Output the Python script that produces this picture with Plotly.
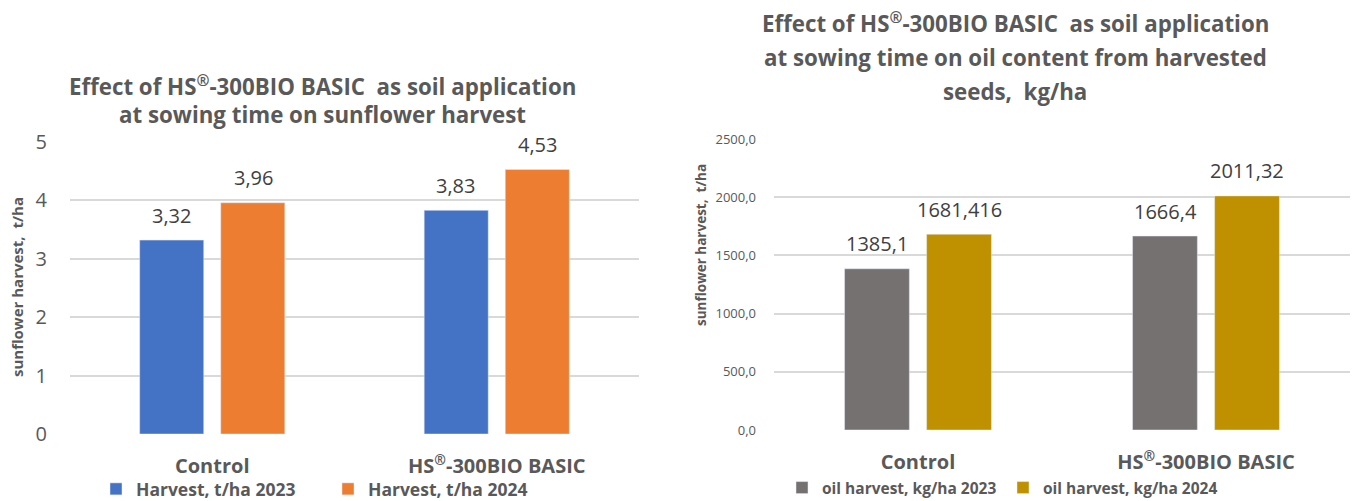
import plotly.graph_objects as go

categories = ["Control", "HS®-300BIO BASIC"]
category_labels = ["Control", "HS<sup>®</sup>-300BIO BASIC"]
harvest_2023 = [3.32, 3.83]
harvest_2024 = [3.96, 4.53]
oil_2023 = [1385.1, 1666.4]
oil_2024 = [1681.416, 2011.32]

left_names = ["Harvest, t/ha 2023", "Harvest, t/ha 2024"]
right_names = ["oil harvest, kg/ha 2023", "oil harvest, kg/ha 2024"]
left_ticks = [0, 1, 2, 3, 4, 5]
right_ticks = [0, 500, 1000, 1500, 2000, 2500]
left_title = ["Effect of HS<sup>®</sup>-300BIO BASIC  as soil application",
              "at sowing time on sunflower harvest"]
right_title = ["Effect of HS<sup>®</sup>-300BIO BASIC  as soil application",
               "at sowing time on oil content from harvested",
               "seeds,  kg/ha"]
y_title = "sunflower harvest,  t/ha"

W, H = 1354, 501
FONT = "Open Sans"
GRAY = "#595959"
LBL = "#404040"


def fmt(v):
    return str(v).replace(".", ",")


def px(x):
    return x / W


def py(y):
    return (H - y) / H


fig = go.Figure()
series = [
    (harvest_2023, left_names[0], "#4472C4", "x", "y", "legend", -1),
    (harvest_2024, left_names[1], "#ED7D31", "x", "y", "legend", 1),
    (oil_2023, right_names[0], "#767171", "x2", "y2", "legend2", -1),
    (oil_2024, right_names[1], "#BF9000", "x2", "y2", "legend2", 1),
]
for vals, name, col, xa, ya, lg, side in series:
    fig.add_trace(go.Bar(x=categories, y=vals, name=name, marker_color=col,
                         xaxis=xa, yaxis=ya, legend=lg, hoverinfo="skip"))
    for c, v in zip(categories, vals):
        fig.add_annotation(x=c, y=v, xref=xa, yref=ya, text=fmt(v), showarrow=False,
                           xshift=side * 41, yshift=25, yanchor="middle",
                           font=dict(size=20, color=LBL, family=FONT))

grid = dict(showgrid=True, gridcolor="#D9D9D9", gridwidth=1.5, zeroline=False, showline=False, ticks="")
xcommon = dict(showgrid=False, zeroline=False, showline=False, ticks="",
               tickvals=categories, ticktext=category_labels,
               tickfont=dict(size=20, color=GRAY, family=FONT, weight="bold"), ticklabelstandoff=18)

fig.update_layout(
    width=W, height=H, margin=dict(l=0, r=0, t=0, b=0, autoexpand=False),
    paper_bgcolor="white", plot_bgcolor="white",
    separators=", ", barmode="group", bargap=0.43, bargroupgap=0.21,
    font=dict(family=FONT, color=GRAY),
    xaxis=dict(domain=[px(70), px(639)], anchor="y", **xcommon),
    yaxis=dict(domain=[py(434), py(142)], anchor="x", range=[0, 5], tickvals=left_ticks,
               tickfont=dict(size=20, color=GRAY, family=FONT), ticklabelstandoff=22, **grid),
    xaxis2=dict(domain=[px(774), px(1350)], anchor="y2", **xcommon),
    yaxis2=dict(domain=[py(430), py(139)], anchor="x2", range=[0, 2500], tickvals=right_ticks,
                tickformat=".1f", tickfont=dict(size=13, color=GRAY, family=FONT), ticklabelstandoff=17, **grid),
    legend=dict(orientation="h", x=px(96), y=py(489), xanchor="left", yanchor="middle",
                font=dict(size=17.5, color=GRAY, family=FONT, weight="bold"), itemwidth=30,
                bgcolor="rgba(0,0,0,0)", entrywidth=187, entrywidthmode="pixels"),
    legend2=dict(orientation="h", x=px(782), y=py(488), xanchor="left", yanchor="middle",
                 font=dict(size=15.5, color=GRAY, family=FONT, weight="bold"), itemwidth=30,
                 bgcolor="rgba(0,0,0,0)", entrywidth=176, entrywidthmode="pixels"),
    showlegend=True,
)

title_font = dict(size=22.3, color=GRAY, family=FONT, weight="bold")
for i, line in enumerate(left_title):
    fig.add_annotation(text=line, x=px(322), y=py(85 + 30 * i), xref="paper", yref="paper",
                       showarrow=False, font=title_font, xanchor="center", yanchor="middle")
for i, line in enumerate(right_title):
    fig.add_annotation(text=line, x=px(1015), y=py(23 + 34 * i), xref="paper", yref="paper",
                       showarrow=False, font=title_font, xanchor="center", yanchor="middle")

fig.add_annotation(text=y_title, x=px(17), y=py(287), xref="paper", yref="paper",
                   showarrow=False, textangle=-90, xanchor="center", yanchor="middle",
                   font=dict(size=15, color=GRAY, family=FONT, weight="bold"))
fig.add_annotation(text=y_title, x=px(701), y=py(245), xref="paper", yref="paper",
                   showarrow=False, textangle=-90, xanchor="center", yanchor="middle",
                   font=dict(size=13.5, color=GRAY, family=FONT, weight="bold"))

fig.write_html("out.html", config={"displayModeBar": False},
               post_script="document.body.style.margin='0';document.body.style.overflow='hidden';")
